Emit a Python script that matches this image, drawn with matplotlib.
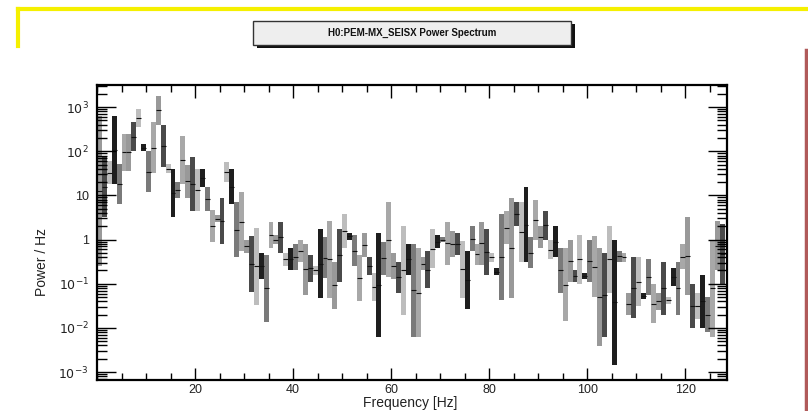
import numpy as np
import matplotlib
matplotlib.use('Agg')
import matplotlib.pyplot as plt
from matplotlib.patches import Rectangle
from matplotlib.lines import Line2D
from matplotlib.ticker import FixedLocator, FixedFormatter, MultipleLocator

plt.rcParams['font.family'] = ['Liberation Sans', 'DejaVu Sans']

# 1 Hz bins, upper / lower edge of each error band as log10(power)
freq = np.arange(128) + 0.5
log_hi = [2.8, 1.9, 1.77, 2.8, 1.7, 2.4, 2.4, 2.66, 2.95, 2.16,
          2.0, 2.66, 3.25, 2.6, 1.7, 1.6, 1.3, 2.34, 1.68, 1.88,
          1.6, 1.6, 1.18, 0.68, 0.55, 0.95, 1.75, 1.6, 0.84, 1.07,
          0.0, 0.07, 0.27, -0.3, -0.34, 0.4, 0.1, 0.4, -0.3, -0.2,
          -0.1, 0.0, -0.1, -0.35, -0.6, 0.23, 0.05, 0.42, -0.5, 0.23,
          0.57, 0.15, 0.1, -0.35, 0.15, -0.4, -0.76, 0.15, -0.05, 0.84,
          -0.3, -0.5, 0.3, -0.1, -0.1, -0.2, -0.4, -0.26, 0.23, 0.1,
          0.05, 0.4, 0.2, 0.15, -0.03, -0.26, 0.3, -0.1, 0.4, 0.23,
          -0.3, -0.65, 0.57, 0.64, 0.95, 0.85, 0.85, 1.18, 0.05, 0.9,
          0.3, 0.64, 0.0, 0.3, -0.2, -0.2, 0.0, -0.7, 0.1, -0.75,
          0.0, 0.07, -0.2, -0.3, 0.3, 0.0, -0.26, -0.3, -1.2, -0.4,
          -0.4, -1.2, -0.45, -1.0, -1.2, -0.5, -1.3, -0.65, -0.5, -0.1,
          0.5, -1.0, -1.2, -0.8, -1.3, 0.0, 0.42, 0.35]
log_lo = [-0.6, 0.5, 1.25, 1.25, 0.8, 1.55, 1.55, 2.0, 2.55, 2.0,
          1.07, 1.5, 2.6, 1.64, 1.5, 0.52, 0.95, 1.25, 0.95, 0.64,
          0.64, 1.2, 0.64, -0.05, 0.4, -0.1, 1.3, 0.8, -0.4, -0.27,
          -0.3, -1.18, -1.48, -0.9, -1.86, -0.18, -0.1, -0.3, -0.6, -0.7,
          -0.7, -0.5, -1.25, -0.95, -0.8, -1.32, -0.87, -1.32, -1.57, -0.95,
          -0.18, 0.0, -0.6, -1.4, -0.4, -0.8, -1.4, -2.2, -0.8, -0.84,
          -0.9, -1.2, -1.7, -0.8, -2.2, -2.2, -0.7, -1.1, -0.65, -0.2,
          -0.05, -0.57, -0.4, -0.35, -1.32, -1.57, -0.26, -0.57, -0.57, -0.8,
          -0.5, -0.8, -1.36, -0.1, -1.32, 0.3, -0.5, -0.5, -0.65, 0.0,
          -0.2, 0.0, -0.45, -0.4, -1.2, -1.85, -0.95, -0.95, -1.0, -0.9,
          -0.95, -1.3, -2.4, -2.2, -1.2, -2.84, -0.5, -0.5, -1.7, -1.78,
          -1.5, -1.35, -1.25, -1.9, -1.6, -1.7, -1.45, -1.05, -1.7, -0.67,
          -1.25, -2.0, -1.8, -2.0, -2.1, -2.2, -0.7, -1.0]

y_ticks = [1e-3, 1e-2, 1e-1, 1, 10, 1e2, 1e3]
y_labels = [r'$10^{-3}$', r'$10^{-2}$', r'$10^{-1}$', '1', '10', r'$10^{2}$', r'$10^{3}$']
x_ticks = [20, 40, 60, 80, 100, 120]

W, H = 808, 411
fig = plt.figure(figsize=(W / 100, H / 100), dpi=100)
ax = fig.add_axes([97 / W, 1 - 380 / H, 630 / W, 295 / H])

hi = 10 ** np.array(log_hi)
lo = 10 ** np.array(log_lo)
shades = ['#999999', '#4a4a4a', '#bdbdbd', '#1e1e1e', '#7a7a7a', '#a8a8a8']
cols = [shades[i % len(shades)] for i in range(len(freq))]
ax.bar(freq, hi - lo, bottom=lo, width=1.0, color=cols, edgecolor='none')
ax.hlines(np.sqrt(hi * lo), freq - 0.5, freq + 0.5, color='#111111', lw=0.8)

ax.set_yscale('log')
ax.set_xlim(0, 128.5)
ax.set_ylim(10 ** -3.18, 10 ** 3.5)
ax.yaxis.set_major_locator(FixedLocator(y_ticks))
ax.yaxis.set_major_formatter(FixedFormatter(y_labels))
ax.yaxis.set_minor_locator(FixedLocator(
    [m * 10.0 ** e for e in range(-4, 4) for m in range(2, 10)]))
ax.yaxis.set_minor_formatter(FixedFormatter([]))
ax.xaxis.set_major_locator(FixedLocator(x_ticks))
ax.xaxis.set_minor_locator(MultipleLocator(5))
ax.tick_params(which='both', direction='in', top=True, right=True,
               width=1.0, labelsize=9, colors='black')
ax.tick_params(axis='y', which='major', length=14, pad=6)
ax.tick_params(axis='y', which='minor', length=7)
ax.tick_params(axis='x', which='major', length=9, pad=3)
ax.tick_params(axis='x', which='minor', length=5)
for s in ax.spines.values():
    s.set_linewidth(1.6)
for lab in ax.get_xticklabels() + ax.get_yticklabels():
    lab.set_color('#222222')

fig.text(410 / W, 1 - 403 / H, 'Frequency [Hz]', ha='center', va='center',
         fontsize=10, color='#222222')
fig.text(42 / W, 1 - 262 / H, 'Power / Hz', ha='center', va='center',
         rotation=90, fontsize=10, color='#222222')

# title box with shadow
fig.add_artist(Rectangle((257 / W, 1 - 48 / H), 318 / W, 24 / H,
                         transform=fig.transFigure, facecolor='#111111',
                         edgecolor='none'))
fig.add_artist(Rectangle((253 / W, 1 - 45 / H), 318 / W, 24 / H,
                         transform=fig.transFigure, facecolor='#eeeeee',
                         edgecolor='#333333', lw=1))
fig.text(412 / W, 1 - 33 / H, 'H0:PEM-MX_SEISX Power Spectrum', ha='center',
         va='center', fontsize=7, fontweight='bold', color='#111111')

# frame decorations
fig.add_artist(Line2D([18 / W, 1], [1 - 9 / H, 1 - 9 / H], transform=fig.transFigure,
                      color='#f5f000', lw=3))
fig.add_artist(Line2D([18 / W, 18 / W], [1 - 9 / H, 1 - 46 / H],
                      transform=fig.transFigure, color='#f5f000', lw=3))
fig.add_artist(Line2D([806 / W, 806 / W], [1 - 50 / H, 0], transform=fig.transFigure,
                      color='#b05a5a', lw=2.5))

fig.savefig('out.png', dpi=100)
